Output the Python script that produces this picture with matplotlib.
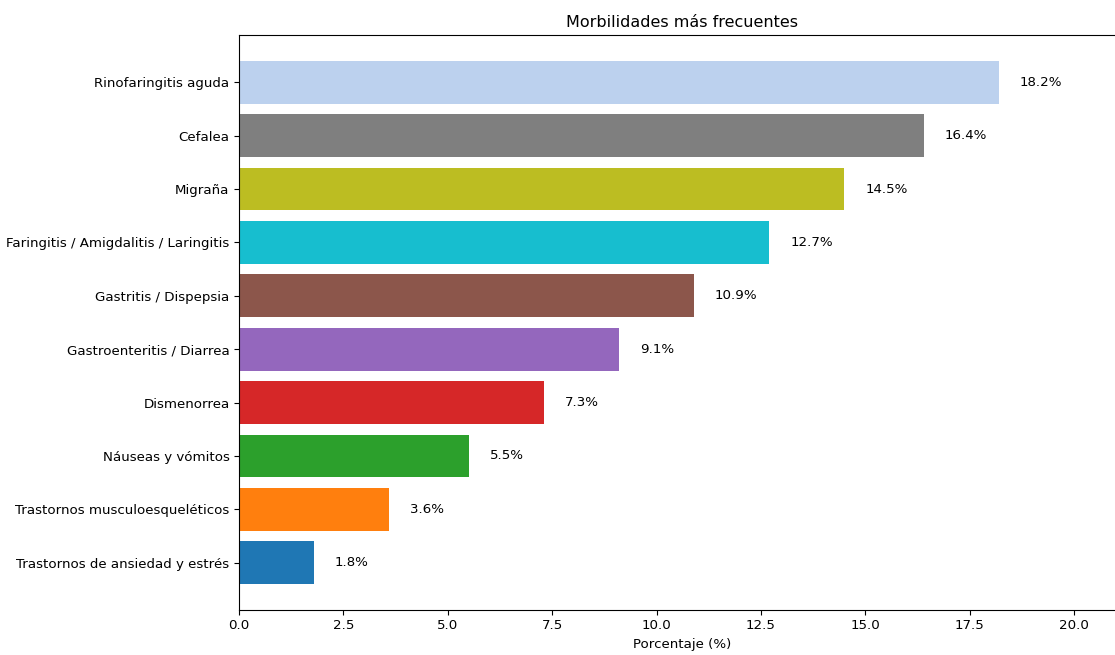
import matplotlib
matplotlib.use("Agg")
import matplotlib.pyplot as plt

categories = [
    "Trastornos de ansiedad y estrés",
    "Trastornos musculoesqueléticos",
    "Náuseas y vómitos",
    "Dismenorrea",
    "Gastroenteritis / Diarrea",
    "Gastritis / Dispepsia",
    "Faringitis / Amigdalitis / Laringitis",
    "Migraña",
    "Cefalea",
    "Rinofaringitis aguda",
]
values = [1.8, 3.6, 5.5, 7.3, 9.1, 10.9, 12.7, 14.5, 16.4, 18.2]
colors = ["#1f77b4", "#ff7f0e", "#2ca02c", "#d62728", "#9467bd",
          "#8c564b", "#17becf", "#bcbd22", "#7f7f7f", "#bcd1ee"]

plt.rcParams["font.size"] = 9.6
plt.rcParams["xtick.major.size"] = 3.3
plt.rcParams["ytick.major.size"] = 3.3

fig = plt.figure(figsize=(11.15, 6.55), dpi=100)
ax = fig.add_axes([239 / 1115, 1 - 610 / 655, 886 / 1115, (610 - 35) / 655])
bars = ax.barh(categories, values, color=colors, height=0.8)
for b, v in zip(bars, values):
    ax.text(v + 0.5, b.get_y() + b.get_height() / 2, f"{v}%",
            va="center", ha="left", fontsize=9.6)
ax.set_xlim(0, 886 / 41.75)
ax.set_xticks([0, 2.5, 5, 7.5, 10, 12.5, 15, 17.5, 20])
ax.set_xlabel("Porcentaje (%)", fontsize=9.6)
ax.set_title("Morbilidades más frecuentes", fontsize=11.5)
fig.savefig("out.png", dpi=100)
